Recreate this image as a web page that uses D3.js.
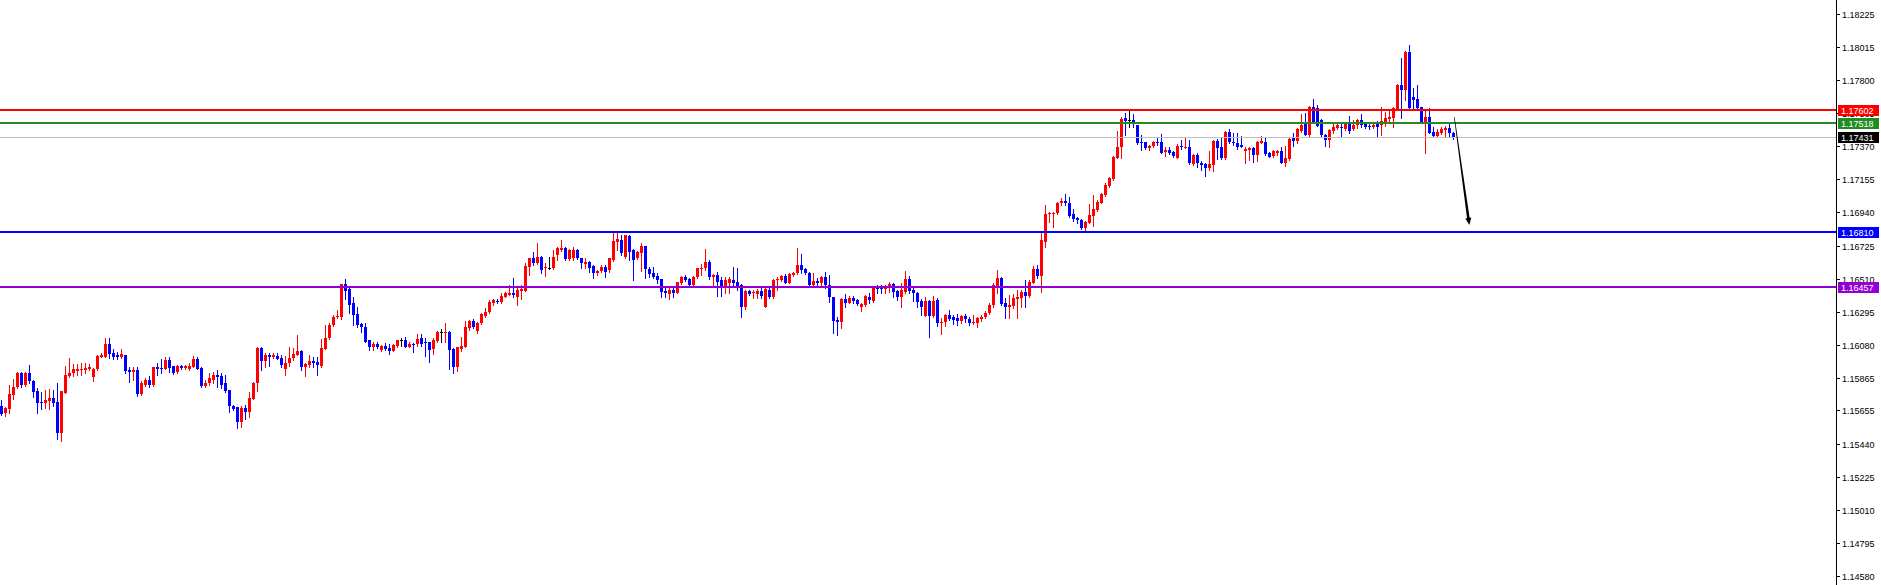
<!DOCTYPE html>
<html><head><meta charset="utf-8">
<script src="https://cdn.jsdelivr.net/npm/d3@7"></script>
<style>html,body{margin:0;padding:0;background:#fff;overflow:hidden}svg{display:block}</style>
</head><body>
<svg id="c" width="1881" height="585"></svg>
<script>
const open = [
1.15684,1.15636,1.15667,1.15757,1.15805,1.15900,1.15822,1.15900,1.15848,1.15783,
1.15712,1.15706,1.15714,1.15736,1.15710,1.15511,1.15770,1.15879,1.15896,1.15913,
1.15918,1.15918,1.15926,1.15870,1.15922,1.16004,1.16004,1.16086,1.16030,1.16013,
1.16000,1.16015,1.15918,1.15907,1.15920,1.15762,1.15822,1.15853,1.15818,1.15939,
1.15931,1.15926,1.15982,1.15944,1.15907,1.15944,1.15931,1.15926,1.15939,1.15989,
1.15931,1.15814,1.15831,1.15853,1.15885,1.15879,1.15831,1.15788,1.15684,1.15675,
1.15582,1.15671,1.15647,1.15732,1.15831,1.16060,1.15978,1.16017,1.16004,1.16008,
1.15995,1.15922,1.15961,1.15995,1.16017,1.16044,1.15940,1.15951,1.15979,1.15970,
1.15944,1.16057,1.16122,1.16208,1.16260,1.16264,1.16476,1.16442,1.16351,1.16282,
1.16217,1.16199,1.16109,1.16070,1.16087,1.16048,1.16074,1.16061,1.16044,1.16074,
1.16109,1.16113,1.16070,1.16087,1.16083,1.16122,1.16100,1.16096,1.16052,1.16104,
1.16165,1.16160,1.16167,1.16052,1.15940,1.16052,1.16070,1.16191,1.16238,1.16173,
1.16221,1.16269,1.16292,1.16351,1.16368,1.16359,1.16394,1.16407,1.16416,1.16394,
1.16433,1.16433,1.16589,1.16647,1.16610,1.16654,1.16578,1.16578,1.16578,1.16664,
1.16697,1.16712,1.16638,1.16647,1.16697,1.16643,1.16604,1.16621,1.16593,1.16545,
1.16560,1.16589,1.16567,1.16632,1.16751,1.16762,1.16654,1.16785,1.16697,1.16643,
1.16679,1.16722,1.16575,1.16549,1.16528,1.16508,1.16432,1.16411,1.16437,1.16419,
1.16480,1.16519,1.16506,1.16471,1.16519,1.16575,1.16577,1.16618,1.16523,1.16534,
1.16502,1.16448,1.16480,1.16502,1.16489,1.16467,1.16324,1.16430,1.16415,1.16411,
1.16430,1.16329,1.16437,1.16389,1.16502,1.16502,1.16528,1.16484,1.16532,1.16545,
1.16599,1.16571,1.16545,1.16469,1.16495,1.16480,1.16523,1.16469,1.16389,1.16242,
1.16231,1.16376,1.16355,1.16385,1.16372,1.16324,1.16339,1.16389,1.16368,1.16454,
1.16448,1.16441,1.16454,1.16476,1.16432,1.16389,1.16426,1.16506,1.16437,1.16419,
1.16365,1.16268,1.16365,1.16268,1.16372,1.16227,1.16231,1.16275,1.16259,1.16253,
1.16238,1.16268,1.16251,1.16225,1.16225,1.16246,1.16259,1.16285,1.16339,1.16463,
1.16512,1.16350,1.16329,1.16333,1.16379,1.16385,1.16422,1.16398,1.16485,1.16573,
1.16530,1.16751,1.16928,1.16928,1.16935,1.17004,1.17015,1.17000,1.16930,1.16902,
1.16891,1.16842,1.16874,1.16917,1.16956,1.17004,1.17054,1.17114,1.17155,1.17296,
1.17363,1.17551,1.17540,1.17540,1.17508,1.17400,1.17400,1.17356,1.17372,1.17400,
1.17400,1.17335,1.17346,1.17335,1.17296,1.17372,1.17363,1.17367,1.17255,1.17315,
1.17263,1.17255,1.17227,1.17248,1.17406,1.17363,1.17292,1.17465,1.17400,1.17393,
1.17378,1.17341,1.17346,1.17356,1.17313,1.17393,1.17400,1.17328,1.17309,1.17328,
1.17339,1.17263,1.17287,1.17421,1.17406,1.17471,1.17525,1.17443,1.17626,1.17616,
1.17540,1.17443,1.17410,1.17471,1.17486,1.17497,1.17479,1.17514,1.17479,1.17505,
1.17540,1.17523,1.17501,1.17492,1.17529,1.17507,1.17527,1.17544,1.17555,1.17609,
1.17767,1.17735,1.17983,1.17691,1.17674,1.17622,1.17523,1.17557,1.17464,1.17436,
1.17458,1.17475,1.17486,1.17453];
const high = [
1.15723,1.15675,1.15820,1.15857,1.15907,1.15907,1.15907,1.15950,1.15855,1.15799,
1.15777,1.15788,1.15792,1.15788,1.15831,1.15783,1.15944,1.15993,1.15956,1.15954,
1.15961,1.15965,1.15956,1.15928,1.16015,1.16030,1.16123,1.16123,1.16052,1.16037,
1.16052,1.16015,1.15935,1.15939,1.15939,1.15846,1.15863,1.15879,1.15939,1.15965,
1.15987,1.16000,1.16000,1.15944,1.15950,1.15950,1.15950,1.15961,1.16008,1.16004,
1.15939,1.15853,1.15896,1.15907,1.15918,1.15900,1.15885,1.15788,1.15690,1.15675,
1.15684,1.15690,1.15777,1.15842,1.16069,1.16065,1.16030,1.16030,1.16030,1.16030,
1.16013,1.16008,1.16065,1.16060,1.16145,1.16048,1.15961,1.16016,1.16005,1.16005,
1.16119,1.16210,1.16221,1.16275,1.16308,1.16476,1.16509,1.16448,1.16394,1.16329,
1.16225,1.16225,1.16113,1.16096,1.16100,1.16078,1.16091,1.16087,1.16087,1.16113,
1.16122,1.16130,1.16096,1.16091,1.16152,1.16152,1.16122,1.16096,1.16122,1.16173,
1.16184,1.16225,1.16173,1.16059,1.16065,1.16130,1.16238,1.16243,1.16251,1.16232,
1.16286,1.16318,1.16372,1.16377,1.16377,1.16416,1.16424,1.16472,1.16513,1.16450,
1.16470,1.16610,1.16647,1.16682,1.16740,1.16660,1.16610,1.16654,1.16697,1.16718,
1.16762,1.16718,1.16703,1.16718,1.16703,1.16647,1.16643,1.16625,1.16599,1.16567,
1.16599,1.16599,1.16647,1.16805,1.16805,1.16794,1.16794,1.16794,1.16703,1.16690,
1.16740,1.16722,1.16588,1.16588,1.16545,1.16508,1.16448,1.16448,1.16448,1.16491,
1.16528,1.16534,1.16512,1.16528,1.16582,1.16605,1.16703,1.16631,1.16541,1.16556,
1.16519,1.16523,1.16523,1.16584,1.16577,1.16474,1.16437,1.16437,1.16437,1.16441,
1.16448,1.16448,1.16448,1.16506,1.16523,1.16534,1.16541,1.16545,1.16556,1.16707,
1.16670,1.16577,1.16556,1.16549,1.16512,1.16528,1.16556,1.16534,1.16394,1.16264,
1.16383,1.16411,1.16398,1.16398,1.16376,1.16355,1.16404,1.16419,1.16463,1.16469,
1.16469,1.16469,1.16491,1.16480,1.16437,1.16484,1.16562,1.16528,1.16448,1.16426,
1.16376,1.16389,1.16372,1.16398,1.16383,1.16253,1.16279,1.16307,1.16275,1.16281,
1.16275,1.16279,1.16264,1.16275,1.16259,1.16275,1.16303,1.16350,1.16484,1.16567,
1.16519,1.16383,1.16405,1.16411,1.16437,1.16437,1.16502,1.16502,1.16593,1.16599,
1.16805,1.16989,1.16945,1.16945,1.17010,1.17032,1.17060,1.17039,1.16961,1.16913,
1.16896,1.16885,1.16995,1.17054,1.17021,1.17069,1.17129,1.17168,1.17307,1.17471,
1.17558,1.17588,1.17610,1.17579,1.17508,1.17443,1.17400,1.17378,1.17406,1.17432,
1.17449,1.17367,1.17363,1.17341,1.17385,1.17411,1.17421,1.17411,1.17320,1.17324,
1.17276,1.17263,1.17341,1.17411,1.17415,1.17432,1.17471,1.17480,1.17454,1.17454,
1.17437,1.17363,1.17367,1.17367,1.17406,1.17437,1.17432,1.17335,1.17346,1.17346,
1.17367,1.17371,1.17421,1.17453,1.17486,1.17579,1.17587,1.17631,1.17674,1.17637,
1.17544,1.17449,1.17479,1.17523,1.17529,1.17523,1.17518,1.17566,1.17540,1.17544,
1.17579,1.17529,1.17529,1.17527,1.17536,1.17626,1.17594,1.17600,1.17626,1.17773,
1.17940,1.17990,1.18027,1.17745,1.17767,1.17626,1.17600,1.17616,1.17492,1.17479,
1.17492,1.17501,1.17514,1.17464];
const low = [
1.15626,1.15619,1.15641,1.15732,1.15799,1.15809,1.15814,1.15835,1.15740,1.15641,
1.15662,1.15669,1.15667,1.15684,1.15472,1.15459,1.15766,1.15874,1.15881,1.15885,
1.15885,1.15896,1.15918,1.15848,1.15918,1.16000,1.16000,1.15993,1.15987,1.15987,
1.15993,1.15900,1.15842,1.15853,1.15749,1.15757,1.15814,1.15809,1.15814,1.15885,
1.15896,1.15922,1.15907,1.15892,1.15900,1.15926,1.15926,1.15918,1.15935,1.15922,
1.15805,1.15805,1.15820,1.15835,1.15809,1.15799,1.15777,1.15647,1.15658,1.15539,
1.15546,1.15602,1.15615,1.15727,1.15783,1.15918,1.15939,1.15944,1.15993,1.15987,
1.15939,1.15885,1.15944,1.15982,1.16013,1.15918,1.15881,1.15940,1.15940,1.15888,
1.15940,1.16052,1.16117,1.16204,1.16256,1.16247,1.16377,1.16290,1.16212,1.16199,
1.16167,1.16100,1.16048,1.16048,1.16059,1.16044,1.16048,1.16022,1.16039,1.16070,
1.16074,1.16065,1.16065,1.16037,1.16074,1.16074,1.16011,1.15972,1.16022,1.16100,
1.16096,1.16102,1.15923,1.15901,1.15914,1.16044,1.16065,1.16178,1.16191,1.16160,
1.16217,1.16264,1.16286,1.16342,1.16351,1.16355,1.16390,1.16403,1.16394,1.16342,
1.16377,1.16431,1.16535,1.16599,1.16604,1.16545,1.16530,1.16573,1.16573,1.16632,
1.16690,1.16632,1.16632,1.16632,1.16638,1.16578,1.16578,1.16556,1.16517,1.16535,
1.16556,1.16524,1.16556,1.16625,1.16697,1.16664,1.16643,1.16632,1.16502,1.16638,
1.16562,1.16517,1.16523,1.16512,1.16484,1.16394,1.16394,1.16381,1.16394,1.16415,
1.16476,1.16497,1.16467,1.16467,1.16515,1.16534,1.16567,1.16510,1.16463,1.16398,
1.16398,1.16419,1.16419,1.16458,1.16437,1.16264,1.16311,1.16404,1.16383,1.16383,
1.16387,1.16324,1.16383,1.16383,1.16437,1.16497,1.16480,1.16480,1.16528,1.16541,
1.16545,1.16540,1.16463,1.16463,1.16467,1.16467,1.16448,1.16361,1.16156,1.16145,
1.16188,1.16329,1.16350,1.16355,1.16339,1.16303,1.16333,1.16350,1.16361,1.16419,
1.16419,1.16419,1.16426,1.16394,1.16372,1.16324,1.16419,1.16419,1.16368,1.16329,
1.16275,1.16268,1.16134,1.16264,1.16203,1.16151,1.16203,1.16242,1.16216,1.16210,
1.16225,1.16231,1.16210,1.16216,1.16199,1.16238,1.16253,1.16281,1.16329,1.16415,
1.16339,1.16258,1.16258,1.16318,1.16258,1.16329,1.16329,1.16394,1.16480,1.16513,
1.16426,1.16718,1.16881,1.16844,1.16930,1.16989,1.16989,1.16913,1.16887,1.16874,
1.16831,1.16816,1.16870,1.16852,1.16952,1.17000,1.17047,1.17108,1.17151,1.17292,
1.17292,1.17443,1.17493,1.17493,1.17385,1.17346,1.17350,1.17346,1.17363,1.17378,
1.17324,1.17307,1.17320,1.17298,1.17292,1.17350,1.17356,1.17255,1.17250,1.17233,
1.17216,1.17177,1.17216,1.17212,1.17285,1.17285,1.17285,1.17389,1.17378,1.17354,
1.17363,1.17259,1.17281,1.17270,1.17276,1.17389,1.17313,1.17298,1.17302,1.17311,
1.17259,1.17241,1.17280,1.17371,1.17393,1.17464,1.17443,1.17427,1.17523,1.17501,
1.17432,1.17371,1.17367,1.17453,1.17479,1.17436,1.17475,1.17458,1.17475,1.17486,
1.17497,1.17486,1.17479,1.17486,1.17427,1.17443,1.17501,1.17523,1.17497,1.17605,
1.17551,1.17670,1.17605,1.17605,1.17605,1.17518,1.17328,1.17453,1.17432,1.17427,
1.17449,1.17436,1.17427,1.17414];
const close = [
1.15632,1.15671,1.15762,1.15809,1.15900,1.15822,1.15900,1.15848,1.15777,1.15701,
1.15706,1.15723,1.15736,1.15706,1.15511,1.15783,1.15885,1.15896,1.15922,1.15922,
1.15926,1.15931,1.15939,1.15922,1.16008,1.16015,1.16086,1.16021,1.16004,1.16000,
1.16019,1.15913,1.15905,1.15920,1.15762,1.15831,1.15853,1.15818,1.15939,1.15926,
1.15922,1.15982,1.15931,1.15900,1.15944,1.15931,1.15944,1.15944,1.15989,1.15926,
1.15814,1.15835,1.15866,1.15885,1.15874,1.15818,1.15783,1.15684,1.15667,1.15582,
1.15671,1.15647,1.15736,1.15835,1.16060,1.15978,1.16017,1.16004,1.16013,1.15987,
1.15952,1.15965,1.15995,1.16021,1.16039,1.15936,1.15957,1.15977,1.15966,1.15949,
1.16061,1.16126,1.16212,1.16260,1.16269,1.16476,1.16433,1.16340,1.16277,1.16210,
1.16195,1.16102,1.16065,1.16087,1.16065,1.16074,1.16052,1.16044,1.16078,1.16109,
1.16109,1.16070,1.16087,1.16083,1.16117,1.16087,1.16091,1.16048,1.16109,1.16165,
1.16165,1.16165,1.16048,1.15940,1.16065,1.16074,1.16199,1.16238,1.16195,1.16225,
1.16279,1.16297,1.16362,1.16372,1.16359,1.16398,1.16416,1.16416,1.16403,1.16437,
1.16442,1.16593,1.16647,1.16610,1.16654,1.16567,1.16589,1.16578,1.16654,1.16708,
1.16712,1.16638,1.16695,1.16697,1.16643,1.16610,1.16617,1.16578,1.16545,1.16560,
1.16584,1.16556,1.16643,1.16755,1.16766,1.16675,1.16794,1.16686,1.16632,1.16686,
1.16722,1.16575,1.16541,1.16519,1.16502,1.16426,1.16419,1.16437,1.16419,1.16489,
1.16519,1.16502,1.16471,1.16523,1.16577,1.16580,1.16618,1.16523,1.16534,1.16491,
1.16448,1.16502,1.16506,1.16480,1.16458,1.16329,1.16430,1.16411,1.16426,1.16432,
1.16398,1.16441,1.16394,1.16502,1.16510,1.16528,1.16484,1.16541,1.16549,1.16599,
1.16567,1.16545,1.16469,1.16495,1.16480,1.16523,1.16469,1.16389,1.16238,1.16231,
1.16376,1.16355,1.16385,1.16368,1.16346,1.16346,1.16398,1.16372,1.16454,1.16445,
1.16441,1.16454,1.16476,1.16426,1.16389,1.16437,1.16506,1.16432,1.16415,1.16361,
1.16329,1.16365,1.16268,1.16365,1.16225,1.16231,1.16275,1.16251,1.16242,1.16238,
1.16268,1.16246,1.16225,1.16229,1.16253,1.16264,1.16290,1.16339,1.16469,1.16512,
1.16346,1.16329,1.16340,1.16387,1.16394,1.16426,1.16398,1.16489,1.16573,1.16528,
1.16762,1.16930,1.16939,1.16939,1.17004,1.17015,1.17000,1.16917,1.16896,1.16891,
1.16837,1.16881,1.16924,1.16961,1.17010,1.17060,1.17119,1.17162,1.17302,1.17363,
1.17547,1.17536,1.17540,1.17523,1.17393,1.17393,1.17356,1.17372,1.17400,1.17389,
1.17328,1.17346,1.17328,1.17307,1.17372,1.17363,1.17367,1.17259,1.17311,1.17259,
1.17248,1.17227,1.17255,1.17406,1.17356,1.17292,1.17465,1.17400,1.17389,1.17367,
1.17367,1.17354,1.17361,1.17313,1.17400,1.17406,1.17320,1.17302,1.17337,1.17341,
1.17263,1.17291,1.17417,1.17406,1.17479,1.17507,1.17443,1.17626,1.17529,1.17501,
1.17443,1.17410,1.17475,1.17492,1.17507,1.17492,1.17514,1.17471,1.17507,1.17540,
1.17505,1.17492,1.17492,1.17507,1.17497,1.17531,1.17551,1.17562,1.17616,1.17767,
1.17735,1.17983,1.17616,1.17670,1.17616,1.17523,1.17557,1.17458,1.17436,1.17464,
1.17479,1.17486,1.17458,1.17431];

const tickLabels = ["1.18225","1.18015","1.17800","1.17585","1.17370","1.17155","1.16940","1.16725","1.16510",
  "1.16295","1.16080","1.15865","1.15655","1.15440","1.15225","1.15010","1.14795","1.14580"];
const levelPrices = [1.17602, 1.17518, 1.17431, 1.16810, 1.16457];
const levelLabels = ["1.17602","1.17518","1.17431","1.16810","1.16457"];
const arrowFrom = {i: 363.2, p: 1.17560};
const arrowTo   = {i: 366.95, p: 1.16859};

// styles
const levelStyle = [
  {line:"#ff0000", w:2, box:"#ff0000"},
  {line:"#228b22", w:2, box:"#228b22"},
  {line:"#c0c0c0", w:1, box:"#000000"},
  {line:"#0000ff", w:2, box:"#0000ff"},
  {line:"#9400d3", w:2, box:"#9400d3"}
];
const W = 1881, H = 585, AX = 1836;
const FONT = "'Liberation Sans', Arial, sans-serif";
const FS = "9px";

const svg = d3.select("#c");
svg.append("rect").attr("width", W).attr("height", H).attr("fill", "#fff");

const y = d3.scaleLinear().domain([1.14522, 1.18319]).range([H, 0]);
const x = d3.scaleLinear().domain([0, open.length - 1]).range([1.5, 1.5 + 4 * (open.length - 1)]);

// candles
const gC = svg.append("g").attr("shape-rendering", "crispEdges");
d3.range(open.length).forEach(i => {
  const o = open[i], c = close[i];
  const h = Math.max(high[i], o, c), l = Math.min(low[i], o, c);
  const col = c > o ? "#ff0000" : (c < o ? "#0000ff" : "#000000");
  const cx = Math.floor(x(i)) + 0.5;
  gC.append("line").attr("x1", cx).attr("x2", cx)
    .attr("y1", Math.round(y(h))).attr("y2", Math.round(y(l)) + 1)
    .attr("stroke", col).attr("stroke-width", 1);
  const yt = Math.round(y(Math.max(o, c))), yb = Math.round(y(Math.min(o, c)));
  gC.append("rect").attr("x", cx - 1.5).attr("y", yt)
    .attr("width", 3).attr("height", Math.max(1, yb - yt)).attr("fill", col);
});

// level lines
const gL = svg.append("g").attr("shape-rendering", "crispEdges");
levelPrices.forEach((p, k) => {
  const st = levelStyle[k];
  const yy = st.w === 1 ? Math.round(y(p)) + 0.5 : Math.round(y(p));
  gL.append("line").attr("x1", 0).attr("x2", AX).attr("y1", yy).attr("y2", yy)
    .attr("stroke", st.line).attr("stroke-width", st.w);
});

// arrow (tapered)
{
  const x0 = x(arrowFrom.i), y0 = y(arrowFrom.p), x1 = x(arrowTo.i), y1 = y(arrowTo.p);
  const dx = x1 - x0, dy = y1 - y0, len = Math.hypot(dx, dy);
  const ux = dx / len, uy = dy / len, nx = -uy, ny = ux;
  const headL = 7, headW = 3;
  const bx = x1 - ux * headL, by = y1 - uy * headL;
  const w0 = 0.3, w1 = 1.3;
  const pts = [
    [x0 + nx * w0, y0 + ny * w0], [bx + nx * w1, by + ny * w1],
    [bx + nx * headW, by + ny * headW], [x1, y1],
    [bx - nx * headW, by - ny * headW], [bx - nx * w1, by - ny * w1],
    [x0 - nx * w0, y0 - ny * w0]
  ];
  svg.append("polygon").attr("points", pts.map(p => p.join(",")).join(" ")).attr("fill", "#000");
}

// axis
const gA = svg.append("g");
gA.append("line").attr("x1", AX + 0.5).attr("x2", AX + 0.5).attr("y1", 0).attr("y2", H)
  .attr("stroke", "#000").attr("stroke-width", 1).attr("shape-rendering", "crispEdges");
tickLabels.forEach(t => {
  const yy = Math.round(y(+t)) + 0.5;
  gA.append("line").attr("x1", AX).attr("x2", AX + 4).attr("y1", yy).attr("y2", yy)
    .attr("stroke", "#000").attr("shape-rendering", "crispEdges");
  gA.append("text").attr("x", AX + 6).attr("y", yy + 3.2)
    .attr("font-family", FONT).attr("font-size", FS).attr("fill", "#000").text(t);
});

// level labels
levelPrices.forEach((p, k) => {
  const yy = Math.round(y(p));
  gA.append("rect").attr("x", AX + 2).attr("y", yy - 5).attr("width", 41).attr("height", 11)
    .attr("fill", levelStyle[k].box).attr("shape-rendering", "crispEdges");
  gA.append("text").attr("x", AX + 5).attr("y", yy + 3.5)
    .attr("font-family", FONT).attr("font-size", FS).attr("fill", "#fff").text(levelLabels[k]);
});
</script>
</body></html>
